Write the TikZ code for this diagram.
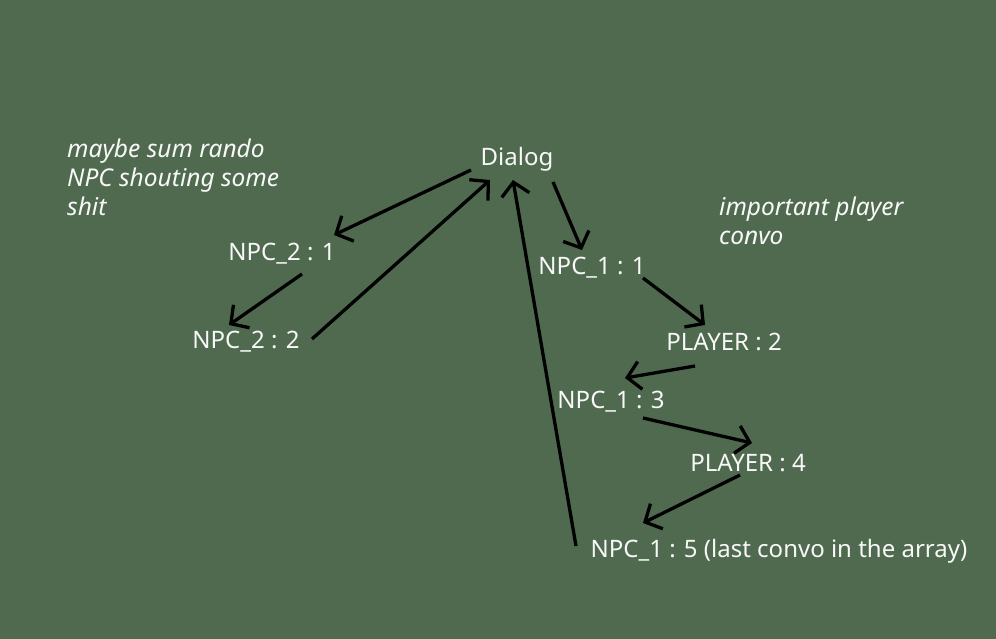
\documentclass[tikz,border=0pt]{standalone}
\usepackage{fontspec}
\setmainfont{Noto Sans}
\usetikzlibrary{arrows.meta}
\definecolor{bg}{RGB}{79,106,79}
\definecolor{txt}{RGB}{248,248,248}
\begin{document}
\begin{tikzpicture}[x=1pt,y=-1pt,
  lbl/.style={text=txt,font=\fontsize{24}{28}\selectfont,inner sep=0pt},
  note/.style={text=txt,font=\fontsize{24.5}{29}\selectfont\itshape,inner sep=0pt,align=left,anchor=north west},
  arr/.style={draw=black,line width=3.3pt,-{Straight Barb[length=13pt,width=28pt]}}]
\fill[bg] (0,0) rectangle (996,639);
\useasboundingbox (0,0) rectangle (996,639);
\node[lbl] (dialog) at (517,159) {Dialog};
\node[lbl] (n21) at (282,254) {NPC\_2 : 1};
\node[lbl] (n22) at (246,342) {NPC\_2 : 2};
\node[lbl] (n11) at (592,268) {NPC\_1 : 1};
\node[lbl] (p2) at (724,342) {PLAYER : 2};
\node[lbl] (n13) at (611,402) {NPC\_1 : 3};
\node[lbl] (p4) at (748,463) {PLAYER : 4};
\node[lbl] (n15) at (779,551) {NPC\_1 : 5 (last convo in the array)};
\node[note] (noteL) at (67,139) {maybe sum rando\\NPC shouting some\\shit};
\node[note] (noteR) at (719,197) {important player\\convo};
\draw[arr] ([shift={(-46,11)}]dialog.center) -- ([shift={(52,-19)}]n21.center);
\draw[arr] ([shift={(66,-3)}]n22.center) -- ([shift={(-27,21)}]dialog.center);
\draw[arr] ([shift={(20,20)}]n21.center) -- ([shift={(-17,-17)}]n22.center);
\draw[arr] ([shift={(-203,-5)}]n15.center) -- ([shift={(-4,21)}]dialog.center);
\draw[arr] ([shift={(36,23)}]dialog.center) -- ([shift={(-10,-18)}]n11.center);
\draw[arr] ([shift={(51,10)}]n11.center) -- ([shift={(-19,-17)}]p2.center);
\draw[arr] ([shift={(-29,24)}]p2.center) -- ([shift={(14,-24)}]n13.center);
\draw[arr] ([shift={(32,16)}]n13.center) -- ([shift={(4,-20)}]p4.center);
\draw[arr] ([shift={(-8,12)}]p4.center) -- ([shift={(-136,-28)}]n15.center);
\end{tikzpicture}
\end{document}
